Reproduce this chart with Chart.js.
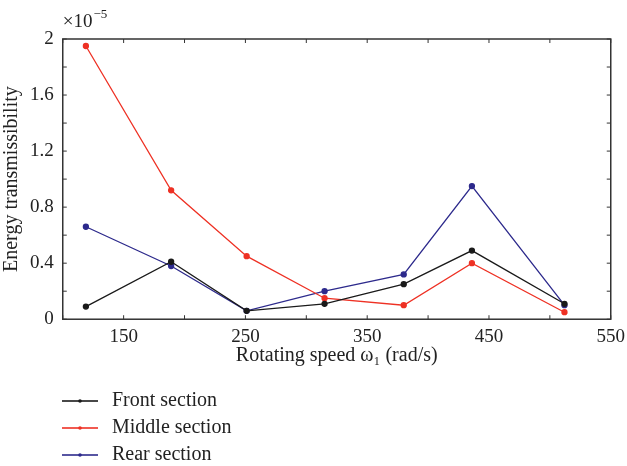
<!DOCTYPE html>
<html>
<head>
<meta charset="utf-8">
<script src="https://cdn.jsdelivr.net/npm/chart.js@4/dist/chart.umd.min.js"></script>
<style>
  body { margin: 0; background: #fff; }
  #wrap { width: 627px; height: 466px; }
</style>
</head>
<body>
<div id="wrap"><canvas id="chart" width="627" height="466"></canvas></div>
<script>
// rotating speed (rad/s)
var speeds = [119, 189, 251, 315, 380, 436, 512];
// energy transmissibility, in units of 1e-5
var front  = [0.09, 0.41, 0.06, 0.11, 0.25, 0.49, 0.11];
var middle = [1.95, 0.92, 0.45, 0.15, 0.10, 0.40, 0.05];
var rear   = [0.66, 0.38, 0.06, 0.20, 0.32, 0.95, 0.10];
var seriesNames = ["Front section", "Middle section", "Rear section"];
var seriesColors = ["#1a1a1a", "#ee3124", "#2d2a8c"];

var xTickLabels = [150, 250, 350, 450, 550];
var yTickLabels = [0, 0.4, 0.8, 1.2, 1.6, 2];

var serif = "'Liberation Serif', 'DejaVu Serif', serif";
var axisColor = "#333";

function toPoints(vals) {
  return vals.map(function (v, i) { return { x: speeds[i], y: v }; });
}

var allSeries = [front, middle, rear];
var dataSets = [];
allSeries.forEach(function (s, i) {
  dataSets.push({
    label: seriesNames[i],
    data: toPoints(s),
    borderColor: seriesColors[i],
    backgroundColor: seriesColors[i],
    borderWidth: 1.3,
    pointRadius: 2.5,
    pointHoverRadius: 2.5,
    tension: 0,
    fill: false
  });
});

// box, inward ticks, exponent and legend
var decorations = {
  id: "decorations",
  afterDraw: function (chart) {
    var ctx = chart.ctx;
    var a = chart.chartArea;
    var xs = chart.scales.x, ys = chart.scales.y;
    ctx.save();
    ctx.strokeStyle = axisColor;
    ctx.lineWidth = 1.5;
    ctx.strokeRect(a.left, a.top, a.right - a.left, a.bottom - a.top);
    ctx.lineWidth = 1;
    var t = 4;
    for (var v = 100; v <= 550; v += 50) {
      var px = xs.getPixelForValue(v);
      ctx.beginPath();
      ctx.moveTo(px, a.bottom); ctx.lineTo(px, a.bottom - t);
      ctx.moveTo(px, a.top); ctx.lineTo(px, a.top + t);
      ctx.stroke();
    }
    for (var k = 0; k <= 10; k++) {
      var py = ys.getPixelForValue(k * 0.2);
      ctx.beginPath();
      ctx.moveTo(a.left, py); ctx.lineTo(a.left + t, py);
      ctx.moveTo(a.right, py); ctx.lineTo(a.right - t, py);
      ctx.stroke();
    }
    // exponent
    ctx.fillStyle = "#222";
    ctx.textBaseline = "alphabetic";
    ctx.textAlign = "left";
    ctx.font = "19px " + serif;
    ctx.fillText("\u00d710", a.left, 27);
    var w = ctx.measureText("\u00d710").width;
    ctx.font = "13px " + serif;
    ctx.fillText("\u22125", a.left + w + 1, 18);
    // legend
    ctx.font = "20px " + serif;
    ctx.textBaseline = "middle";
    var rows = [401, 428, 455];
    chart.data.datasets.forEach(function (ds, i) {
      var y = rows[i];
      ctx.strokeStyle = ds.borderColor;
      ctx.globalAlpha = 0.8;
      ctx.lineWidth = 2;
      ctx.beginPath();
      ctx.moveTo(62, y); ctx.lineTo(98, y);
      ctx.stroke();
      ctx.globalAlpha = 1;
      ctx.fillStyle = ds.borderColor;
      ctx.beginPath();
      ctx.arc(80, y, 1.8, 0, Math.PI * 2);
      ctx.fill();
      ctx.fillStyle = "#222";
      ctx.fillText(ds.label, 112, y);
    });
    ctx.restore();
  }
};

new Chart(document.getElementById("chart"), {
  type: "line",
  data: { datasets: dataSets },
  options: {
    responsive: false,
    animation: false,
    layout: { padding: { top: 39, right: 9, bottom: 98, left: 0 } },
    plugins: { legend: { display: false }, tooltip: { enabled: false } },
    scales: {
      x: {
        type: "linear",
        min: 100,
        max: 550,
        grid: { display: false, drawTicks: false },
        border: { display: false },
        ticks: {
          stepSize: 50,
          padding: 2,
          color: "#222",
          font: { family: serif, size: 19, lineHeight: 1.62 },
          maxRotation: 0,
          callback: function (v) { return xTickLabels.indexOf(v) >= 0 ? String(v) : ""; }
        },
        title: {
          display: true,
          text: "Rotating speed \u03c9\u2081 (rad/s)",
          color: "#222",
          font: { family: serif, size: 20 },
          padding: { top: -10, bottom: 0 }
        }
      },
      y: {
        min: 0,
        max: 2,
        grid: { display: false, drawTicks: false },
        border: { display: false },
        ticks: {
          stepSize: 0.2,
          padding: 9,
          color: "#222",
          font: { family: serif, size: 19 },
          callback: function (v) {
            var r = Math.round(v * 10) / 10;
            return yTickLabels.indexOf(r) >= 0 ? String(r) : "";
          }
        },
        title: {
          display: true,
          text: "Energy transmissibility",
          color: "#222",
          font: { family: serif, size: 20 },
          padding: { top: 0, bottom: -3 }
        }
      }
    }
  },
  plugins: [decorations]
});
</script>
</body>
</html>
